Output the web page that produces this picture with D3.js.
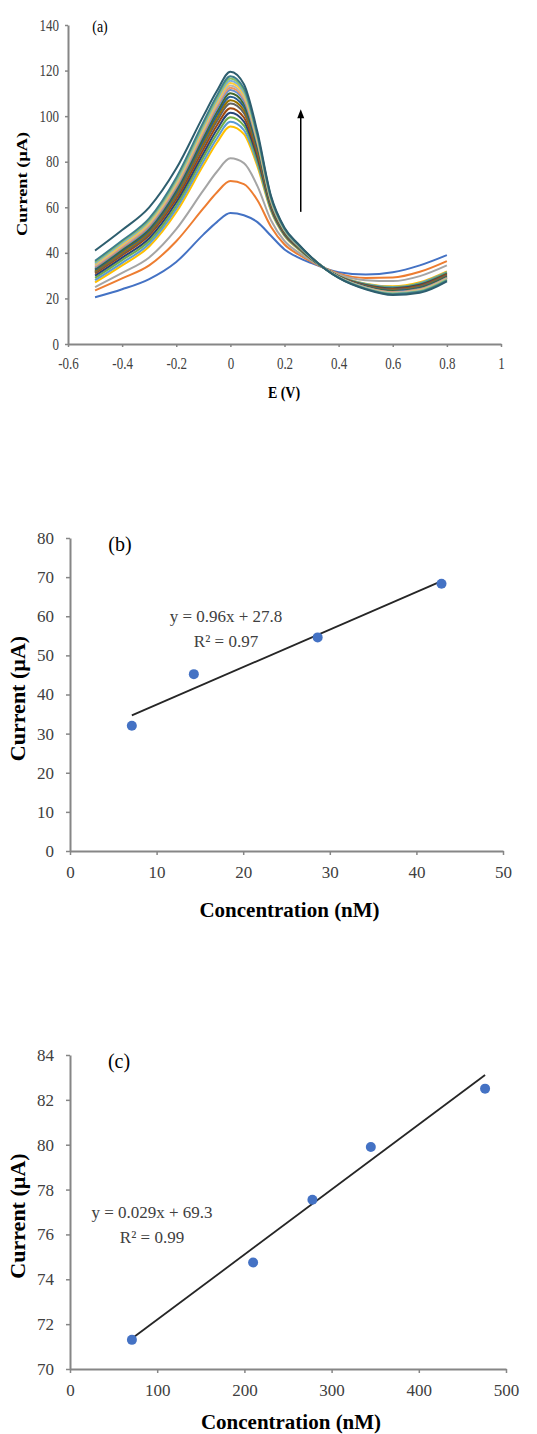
<!DOCTYPE html>
<html>
<head>
<meta charset="utf-8">
<script src="https://cdnjs.cloudflare.com/ajax/libs/d3/7.8.5/d3.min.js"></script>
<style>
  body { margin: 0; background: #fff; }
  svg { display: block; }
</style>
</head>
<body>
<div id="chart"></div>
<script>
// ---- Panel (a): voltammograms, current (uA) read at each potential (V)
const cvPotential = [-0.5, -0.4, -0.3, -0.2, -0.1, -0.05, 0, 0.05, 0.1, 0.15, 0.2, 0.25, 0.3, 0.4, 0.5, 0.6, 0.7, 0.8];
const cvCurrents = [
  [20.5, 24, 28.5, 36, 48, 53.5, 57.5, 56.5, 53.5, 47.5, 41.5, 38, 35.5, 31.5, 30.5, 31.5, 34.5, 39],
  [23.5, 28.8, 34.5, 45.1, 59.5, 66.5, 71.5, 70.2, 63.1, 51.5, 43.7, 39.4, 36.1, 30.9, 29, 29.2, 31.7, 36.4],
  [25, 31.2, 38, 50.4, 67.4, 75.6, 81.5, 79.4, 69.3, 54.3, 45.2, 40.3, 36.5, 30.5, 28, 27.6, 29.8, 34.5],
  [27, 34.5, 42.8, 57.8, 78.4, 88.3, 95.5, 92.1, 77.9, 58.4, 47.4, 41.7, 37.1, 29.9, 26.5, 25.3, 27.1, 31.9],
  [28, 35.6, 44, 59.3, 80.1, 90.2, 97.5, 93.9, 79.2, 58.9, 47.7, 41.9, 37.1, 29.9, 26.3, 25, 26.7, 31.5],
  [29, 36.8, 45.2, 60.7, 81.9, 92.1, 99.5, 95.8, 80.5, 59.4, 48, 42.1, 37.2, 29.8, 26.1, 24.7, 26.3, 31.2],
  [30, 37.9, 46.4, 62.2, 83.6, 94, 101.5, 97.6, 81.8, 59.9, 48.2, 42.3, 37.3, 29.7, 25.9, 24.4, 26, 30.8],
  [31, 39, 47.7, 63.6, 85.4, 95.9, 103.5, 99.4, 83.1, 60.5, 48.5, 42.4, 37.4, 29.7, 25.7, 24.1, 25.6, 30.5],
  [31.5, 39.6, 48.5, 64.8, 87, 97.7, 105.5, 101.3, 84.4, 61, 48.8, 42.6, 37.4, 29.6, 25.5, 23.8, 25.3, 30.1],
  [32, 40.3, 49.3, 65.8, 88.3, 99.1, 107, 102.6, 85.2, 61.5, 49.1, 42.8, 37.5, 29.5, 25.3, 23.5, 24.9, 29.8],
  [32.5, 40.9, 50, 66.7, 89.5, 100.5, 108.5, 104, 86.2, 61.9, 49.3, 42.9, 37.6, 29.5, 25.2, 23.3, 24.7, 29.6],
  [33, 41.5, 50.7, 67.7, 90.8, 101.9, 110, 105.4, 87.3, 62.2, 49.5, 43, 37.6, 29.4, 25, 23.1, 24.4, 29.3],
  [33.5, 42.1, 51.4, 68.6, 92, 103.3, 111.5, 106.7, 88.1, 62.7, 49.8, 43.2, 37.7, 29.3, 24.8, 22.8, 24.1, 29],
  [34, 42.6, 52.1, 69.3, 92.9, 104.3, 112.5, 107.7, 88.8, 62.9, 49.9, 43.3, 37.7, 29.3, 24.8, 22.7, 23.9, 28.9],
  [34.5, 43.2, 52.7, 70.1, 93.8, 105.2, 113.5, 108.5, 89.3, 63.3, 50.1, 43.4, 37.8, 29.3, 24.7, 22.5, 23.7, 28.7],
  [35, 43.7, 53.3, 70.8, 94.6, 106.2, 114.5, 109.4, 89.9, 63.6, 50.2, 43.5, 37.8, 29.2, 24.5, 22.3, 23.5, 28.4],
  [35.5, 44.3, 53.9, 71.5, 95.5, 107.1, 115.5, 110.4, 90.6, 63.8, 50.3, 43.6, 37.8, 29.2, 24.5, 22.2, 23.3, 28.3],
  [36, 44.9, 54.5, 72.2, 96.4, 108, 116.5, 111.3, 91.2, 64.1, 50.5, 43.7, 37.9, 29.1, 24.3, 22, 23.1, 28.1],
  [36.5, 45.4, 55.1, 73, 97.3, 109, 117.5, 112.2, 91.7, 64.5, 50.7, 43.8, 37.9, 29.1, 24.2, 21.8, 22.9, 27.8],
  [41, 50, 60, 77, 100, 111, 119.5, 114, 93, 65, 51, 44, 38, 29, 24, 21.5, 22.5, 27.5]
];
const cvColors = ['#4472C4', '#ED7D31', '#A5A5A5', '#FFC000', '#5B9BD5', '#70AD47', '#264478', '#9E480E', '#636363', '#997300',
  '#255E91', '#43682B', '#698ED0', '#F1975A', '#B7B7B7', '#FFCD33', '#7CAFDD', '#8CC168', '#3F7F8C', '#2E5E6E'];
const arrowPotential = 0.26;
const arrowCurrents = [58, 103];
const ticksAx = [-0.6, -0.4, -0.2, 0, 0.2, 0.4, 0.6, 0.8, 1];
const ticksAy = [0, 20, 40, 60, 80, 100, 120, 140];

// ---- Panel (b): low concentration calibration
const concB = [7.14, 14.3, 28.6, 42.9];
const currentB = [32, 45.2, 54.6, 68.3];
const fitB = [0.96, 27.8];
const eqB = ['y = 0.96x + 27.8', 'R\u00b2 = 0.97'];
const ticksBx = [0, 10, 20, 30, 40, 50];
const ticksBy = [0, 10, 20, 30, 40, 50, 60, 70, 80];

// ---- Panel (c): high concentration calibration
const concC = [71, 210, 278, 345, 476];
const currentC = [71.3, 74.75, 77.55, 79.9, 82.5];
const fitC = [0.029, 69.3];
const eqC = ['y = 0.029x + 69.3', 'R\u00b2 = 0.99'];
const ticksCx = [0, 100, 200, 300, 400, 500];
const ticksCy = [70, 72, 74, 76, 78, 80, 82, 84];

const serif = '"Liberation Serif", "Times New Roman", serif';
const axisGray = '#868686';

const svg = d3.select('#chart').append('svg')
  .attr('width', 537)
  .attr('height', 1434)
  .style('font-family', serif);

function drawAxes(x, y, cfg) {
  let xAxis = d3.axisBottom(x).tickValues(cfg.xTicks).tickSizeInner(cfg.tick).tickSizeOuter(0)
    .tickPadding(cfg.xPad).tickFormat(cfg.xFormat || (d => d));
  let yAxis = d3.axisLeft(y).tickValues(cfg.yTicks).tickSizeInner(cfg.tick).tickSizeOuter(0)
    .tickPadding(cfg.yPad).tickFormat(d => d);
  let gx = svg.append('g')
    .attr('class', 'axis axis--x')
    .attr('transform', 'translate(' + [0, y.range()[0]] + ')')
    .call(xAxis);
  let gy = svg.append('g')
    .attr('class', 'axis axis--y')
    .attr('transform', 'translate(' + [x.range()[0], 0] + ')')
    .call(yAxis);
  [gx, gy].forEach(a => {
    a.select('.domain').attr('stroke', axisGray).attr('stroke-width', 2);
    a.selectAll('.tick line').attr('stroke', axisGray).attr('stroke-width', 1.5);
    a.selectAll('.tick text')
      .attr('fill', '#404040')
      .style('font-family', serif)
      .style('font-size', cfg.fontSize + 'px');
    if (cfg.stretch) a.selectAll('.tick text').attr('transform', 'scale(1,' + cfg.stretch + ')');
  });
}

function addText(str, px, py, opts) {
  let sy = opts.stretch || 1;
  let rot = opts.rotate ? ' rotate(-90)' : '';
  return svg.append('text')
    .attr('transform', 'translate(' + [px, py] + ')' + (sy !== 1 ? ' scale(1,' + sy + ')' : '') + rot)
    .attr('text-anchor', opts.anchor || 'middle')
    .attr('fill', opts.color || '#000')
    .style('font-size', opts.size + 'px')
    .style('font-weight', opts.bold ? 'bold' : 'normal')
    .text(str);
}

// ---------- Panel (a)
{
  let x = d3.scaleLinear().domain([-0.6, 1]).range([68, 501]);
  let y = d3.scaleLinear().domain([0, 140]).range([344, 25]);
  drawAxes(x, y, {xTicks: ticksAx, yTicks: ticksAy, tick: 3, xPad: 8, yPad: 6, fontSize: 13, stretch: 1.22,
    xFormat: d => String(Math.round(d * 10) / 10)});

  let line = d3.line()
    .x((d, i) => x(cvPotential[i]))
    .y(d => y(d))
    .curve(d3.curveMonotoneX);

  svg.append('g').attr('class', 'cv-curves')
    .selectAll('path')
    .data(cvCurrents)
    .enter()
    .append('path')
    .attr('d', line)
    .attr('fill', 'none')
    .attr('stroke', (d, i) => cvColors[i])
    .attr('stroke-width', 2)
    .attr('stroke-linejoin', 'round');

  // arrow showing increasing concentration
  let ax = x(arrowPotential), y0 = y(arrowCurrents[0]), y1 = y(arrowCurrents[1]);
  svg.append('line')
    .attr('x1', ax).attr('x2', ax)
    .attr('y1', y0).attr('y2', y1 + 6)
    .attr('stroke', '#000')
    .attr('stroke-width', 1.5);
  svg.append('path')
    .attr('d', 'M' + [ax, y1] + 'L' + [ax - 3.5, y1 + 9] + 'L' + [ax + 3.5, y1 + 9] + 'Z')
    .attr('fill', '#000');

  addText('(a)', 100, 32, {size: 14, stretch: 1.22});
  addText('E (V)', 284, 398, {size: 14, bold: true, stretch: 1.22});
  addText('Current (\u00b5A)', 27, 184, {size: 15, bold: true, rotate: true, stretch: 1.22});
}

// ---------- calibration panels (b) and (c)
function drawCalibration(conc, current, fit, eq, xDomain, yDomain, xRange, yRange, ticks, labels) {
  let x = d3.scaleLinear().domain(xDomain).range(xRange);
  let y = d3.scaleLinear().domain(yDomain).range(yRange);
  drawAxes(x, y, {xTicks: ticks[0], yTicks: ticks[1], tick: 4, xPad: 11, yPad: 12, fontSize: 17});

  let xs = d3.extent(conc);
  svg.append('line')
    .attr('class', 'trendline')
    .attr('x1', x(xs[0])).attr('y1', y(fit[0] * xs[0] + fit[1]))
    .attr('x2', x(xs[1])).attr('y2', y(fit[0] * xs[1] + fit[1]))
    .attr('stroke', '#262626')
    .attr('stroke-width', 1.8);

  svg.append('g').attr('class', 'points')
    .selectAll('circle')
    .data(conc)
    .enter()
    .append('circle')
    .attr('cx', d => x(d))
    .attr('cy', (d, i) => y(current[i]))
    .attr('r', 5)
    .attr('fill', '#4472C4');

  addText(labels.tag, labels.tagPos[0], labels.tagPos[1], {size: 20});
  addText(eq[0], labels.eqPos[0], labels.eqPos[1], {size: 17, color: '#404040'});
  addText(eq[1], labels.eqPos[0], labels.eqPos[1] + 25, {size: 17, color: '#404040'});
  addText('Concentration (nM)', (xRange[0] + xRange[1]) / 2 + 3, yRange[0] + labels.xTitleGap, {size: 21, bold: true});
  addText('Current (\u00b5A)', 25, (yRange[0] + yRange[1]) / 2 + 4, {size: 22, bold: true, rotate: true});
}

drawCalibration(concB, currentB, fitB, eqB, [0, 50], [0, 80], [70, 503], [851, 538], [ticksBx, ticksBy],
  {tag: '(b)', tagPos: [120, 551], eqPos: [226, 622], xTitleGap: 66});

drawCalibration(concC, currentC, fitC, eqC, [0, 500], [70, 84], [70, 506], [1369, 1055], [ticksCx, ticksCy],
  {tag: '(c)', tagPos: [119, 1068], eqPos: [152, 1218], xTitleGap: 60});
</script>
</body>
</html>
